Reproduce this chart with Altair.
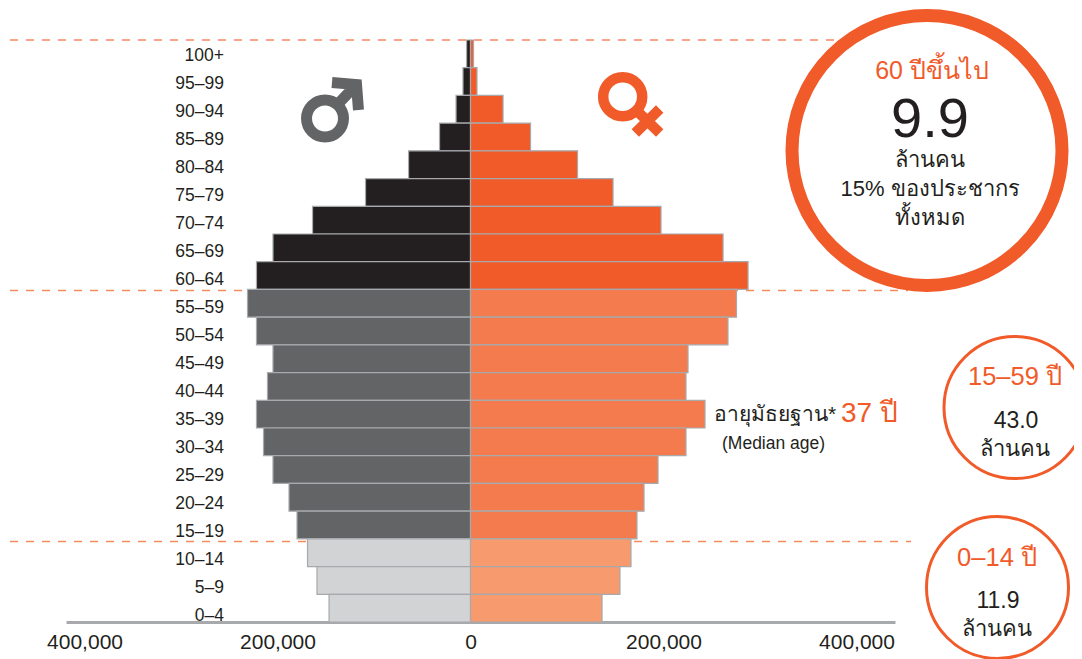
import altair as alt
import pandas as pd

ages = ["100+", "95–99", "90–94", "85–89", "80–84", "75–79", "70–74", "65–69", "60–64",
        "55–59", "50–54", "45–49", "40–44", "35–39", "30–34", "25–29", "20–24", "15–19",
        "10–14", "5–9", "0–4"]
male = [4100, 7800, 15000, 32100, 64200, 108800, 163700, 204700, 221800,
        231100, 221800, 204700, 210400, 221800, 214500, 204700, 188100, 179800,
        168900, 159100, 146600]
female = [3100, 6700, 33700, 62200, 110900, 147700, 197400, 261700, 287600,
          275600, 266800, 225400, 223300, 243000, 223300, 194300, 179800, 172500,
          166300, 154900, 136300]
ticks = [-400000, -200000, 0, 200000, 400000]
group_names = ["m60", "m15", "m0", "f60", "f15", "f0"]
group_colors = ["#231f20", "#636466", "#d1d3d4", "#f15a29", "#f47b4d", "#f79a6e"]

FONT = "Liberation Sans"
ORANGE = "#f15a29"
DARK = "#231f20"

def band(i):
    return "60" if i < 9 else ("15" if i < 18 else "0")

rows = []
for i, a in enumerate(ages):
    rows.append({"age": a, "value": -male[i], "zero": 0, "group": "m" + band(i)})
    rows.append({"age": a, "value": female[i], "zero": 0, "group": "f" + band(i)})
df = pd.DataFrame(rows)

x_scale = alt.Scale(domain=[-419200, 439900], range=[58, 887], nice=False, zero=False)
y_scale = alt.Scale(domain=ages, range=[32, 614], paddingInner=0, paddingOuter=0)

bars = alt.Chart(df).mark_bar(stroke="#a7a9ac", strokeWidth=1.2).encode(
    x=alt.X("value:Q", scale=x_scale, axis=alt.Axis(
        values=ticks, title=None, grid=False, ticks=False, labelFontSize=21, labelFont=FONT,
        labelColor=DARK, labelPadding=9, domainColor="#a7a9ac", domainWidth=3,
        labelExpr="format(abs(datum.value), ',')", labelFlush=False)),
    x2="zero:Q",
    y=alt.Y("age:N", scale=y_scale, sort=ages, axis=None),
    color=alt.Color("group:N", scale=alt.Scale(domain=group_names, range=group_colors), legend=None),
)

age_labels = alt.Chart(pd.DataFrame({"age": ages})).mark_text(
    align="right", baseline="middle", fontSize=17.5, font=FONT, color=DARK
).encode(
    x=alt.value(216),
    y=alt.Y("age:N", scale=alt.Scale(type="point", domain=ages, range=[48, 608], padding=0), axis=None),
    text="age:N",
)

def rule(y, x1, x2):
    return alt.Chart(pd.DataFrame({"a": [0]})).mark_rule(
        color="#f58a5f", strokeWidth=1.6, strokeDash=[8, 8]
    ).encode(x=alt.value(x1), x2=alt.value(x2), y=alt.value(y))

rules = [rule(32, 2, 900), rule(282.5, 2, 900), rule(533.5, 2, 903)]

def circle(cx, cy, d, sw):
    return alt.Chart(pd.DataFrame({"a": [0]})).mark_point(
        shape="circle", filled=False, fill="white", fillOpacity=1, opacity=1,
        stroke=ORANGE, strokeWidth=sw, size=d * d
    ).encode(x=alt.value(cx - 8), y=alt.value(cy - 8))

circles = [circle(927, 150.5, 270, 13), circle(1015, 407.5, 142, 3), circle(997.5, 587.5, 142, 3)]

def txt(s, cx, cy, size, color=DARK, align="center"):
    return alt.Chart(pd.DataFrame({"t": [s]})).mark_text(
        align=align, baseline="middle", fontSize=size, font=FONT, color=color
    ).encode(x=alt.value(cx - 8), y=alt.value(cy - 8), text="t:N")

texts = [
    txt("60 ปีขึ้นไป", 932, 71, 25, ORANGE),
    txt("9.9", 930, 120, 56),
    txt("ล้านคน", 930, 160, 22),
    txt("15% ของประชากร", 930, 189, 22),
    txt("ทั้งหมด", 930, 218, 22),
    txt("15–59 ปี", 1015, 377, 25.5, ORANGE),
    txt("43.0", 1016, 421, 23),
    txt("ล้านคน", 1015, 449, 22),
    txt("0–14 ปี", 997, 558, 25.5, ORANGE),
    txt("11.9", 998, 601, 23),
    txt("ล้านคน", 997, 629, 22),
    txt("อายุมัธยฐาน*", 714, 415, 21, DARK, "left"),
    txt("37 ปี", 841, 414, 28, ORANGE, "left"),
    txt("(Median age)", 722, 444, 17.5, DARK, "left"),
]

# gender symbols: stroked custom paths in the unit square
male_path = ("M -0.916 0.56 A 0.44 0.44 0 1 1 -0.036 0.56 A 0.44 0.44 0 1 1 -0.916 0.56 Z "
             "M -0.19 0.238 L 0.274 -0.25 M -0.31 -0.298 L 0.274 -0.25 L 0.321 0.357")
female_path = ("M -0.876 -0.317 A 0.464 0.464 0 1 1 0.052 -0.317 A 0.464 0.464 0 1 1 -0.876 -0.317 Z "
               "M -0.119 -0.024 L 0.469 0.548 M 0.469 -0.024 L -0.112 0.548")
male_sym = alt.Chart(pd.DataFrame({"a": [0]})).mark_point(
    shape=male_path, filled=False, stroke="#636466", strokeWidth=11, size=84 * 84, opacity=1
).encode(x=alt.value(345 - 8), y=alt.value(95 - 8))
female_sym = alt.Chart(pd.DataFrame({"a": [0]})).mark_point(
    shape=female_path, filled=False, stroke=ORANGE, strokeWidth=10.5, size=84 * 84, opacity=1
).encode(x=alt.value(640 - 8), y=alt.value(110 - 8))

chart = alt.layer(
    *rules, bars, age_labels, male_sym, female_sym, *circles, *texts
).resolve_scale(y="independent").properties(
    width=1066, height=614,
    padding={"left": 0, "top": 0, "right": 0, "bottom": 37},
    autosize=alt.AutoSizeParams(type="none"),
).configure_view(stroke=None)

chart.save("out.html", embed_options={"renderer": "svg", "actions": False})
